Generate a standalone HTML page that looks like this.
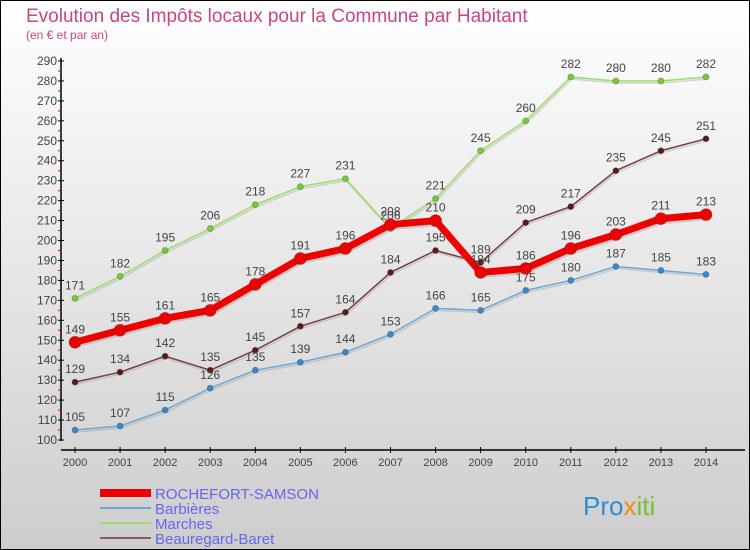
<!DOCTYPE html>
<html><head><meta charset="utf-8"><style>
body{margin:0;width:750px;height:550px;overflow:hidden}
svg{display:block;font-family:"Liberation Sans",sans-serif}
</style></head><body>
<svg id="c" width="750" height="550">
<defs><linearGradient id="bg" x1="0" y1="0" x2="0" y2="1"><stop offset="0" stop-color="#ffffff"/><stop offset="1" stop-color="#cdcdcd"/></linearGradient></defs>
<rect x="0.5" y="0.5" width="749" height="549" fill="url(#bg)" stroke="#000"/>
<text x="26" y="22" font-size="19" fill="#c8467a">Evolution des Impôts locaux pour la Commune par Habitant</text>
<text x="26" y="39" font-size="12" fill="#c8467a">(en € et par an)</text>
<g id="axes"></g><g id="series"></g>
<g id="legend"></g>
<text x="583" y="515" font-size="26" fill="#2a8fd6">Pro<tspan fill="#f08a1c">x</tspan><tspan fill="#7bbf2a">iti</tspan></text>
</svg>
<script>
const years=[2000,2001,2002,2003,2004,2005,2006,2007,2008,2009,2010,2011,2012,2013,2014];
const rochefort=[149,155,161,165,178,191,196,208,210,184,186,196,203,211,213];
const barbieres=[105,107,115,126,135,139,144,153,166,165,175,180,187,185,183];
const marches=[171,182,195,206,218,227,231,206,221,245,260,282,280,280,282];
const beauregard=[129,134,142,135,145,157,164,184,195,189,209,217,235,245,251];
const yTicks=[100,110,120,130,140,150,160,170,180,190,200,210,220,230,240,250,260,270,280,290];
const NS='http://www.w3.org/2000/svg';
const X=i=>75+i*(706-75)/14;
const Y=v=>440-(v-100)*(440-61)/190;
function mk(t,a,p){const e=document.createElementNS(NS,t);for(const k in a)e.setAttribute(k,a[k]);p.appendChild(e);return e;}
const ax=document.getElementById('axes');
let yl=mk('line',{x1:61,y1:58,x2:61,y2:441,stroke:'#000','stroke-width':1.5},ax);


let xl=mk('line',{x1:61,y1:450,x2:745,y2:450,stroke:'#000','stroke-width':1.5},ax);


yTicks.forEach(v=>{
  mk('line',{x1:58,y1:Y(v),x2:64,y2:Y(v),stroke:'#000'},ax);
  if(v<290)mk('line',{x1:58,y1:Y(v+5),x2:61,y2:Y(v+5),stroke:'#e00'},ax);
  const t=mk('text',{x:57,y:Y(v)+4,'font-size':12,fill:'#444','text-anchor':'end'},ax);t.textContent=v;
  
  
});
years.forEach((y,i)=>{
  mk('line',{x1:X(i),y1:447,x2:X(i),y2:453,stroke:'#000'},ax);
  const t=mk('text',{x:X(i),y:466,'font-size':11,fill:'#444','text-anchor':'middle'},ax);t.textContent=y;
  
  
});
const sg=document.getElementById('series');
const defs=[
 {d:marches,c:'#99dd66',dot:'#77cc33',w:1.5,r:3,n:'marches'},
 {d:beauregard,c:'#7a3a3a',dot:'#5a1a1a',w:1.5,r:3,n:'beauregard-baret'},
 {d:barbieres,c:'#6aa6d8',dot:'#3a88cc',w:1.5,r:3,n:'barbieres'},
 {d:rochefort,c:'#ee0000',dot:'#ee0000',w:7,r:6,n:'rochefort-samson'}];
defs.forEach(s=>{
  const g=mk('g',{},sg);
  
  
  const pts=s.d.map((v,i)=>X(i)+','+Y(v)).join(' ');
  mk('polyline',{points:pts,fill:'none',stroke:'#999','stroke-opacity':0.4,'stroke-width':s.w,transform:'translate(1,2)'},g);
  mk('polyline',{points:pts,fill:'none',stroke:s.c,'stroke-width':s.w,'stroke-linejoin':'round'},g);
  s.d.forEach((v,i)=>{
    const c=mk('circle',{cx:X(i),cy:Y(v),r:s.r,fill:s.dot,stroke:'#333','stroke-opacity':0.3},g);
    
    
    const t=mk('text',{x:X(i),y:Y(v)-9,'font-size':12,fill:'#444','text-anchor':'middle'},g);t.textContent=v;
    
    
  });
});
const lg=document.getElementById('legend');
const lgItems=[['ROCHEFORT-SAMSON','#ee0000',8],['Barbières','#6aa6d8',2],['Marches','#99dd66',2],['Beauregard-Baret','#8a5a5a',2]];
lgItems.forEach((it,i)=>{
  const y=493+i*15;
  mk('line',{x1:100,y1:y,x2:151,y2:y,stroke:it[1],'stroke-width':it[2]},lg);
  const t=mk('text',{x:155,y:y+6,'font-size':15,fill:'#6666ee'},lg);t.textContent=it[0];
  
  
});
</script>
</body></html>
